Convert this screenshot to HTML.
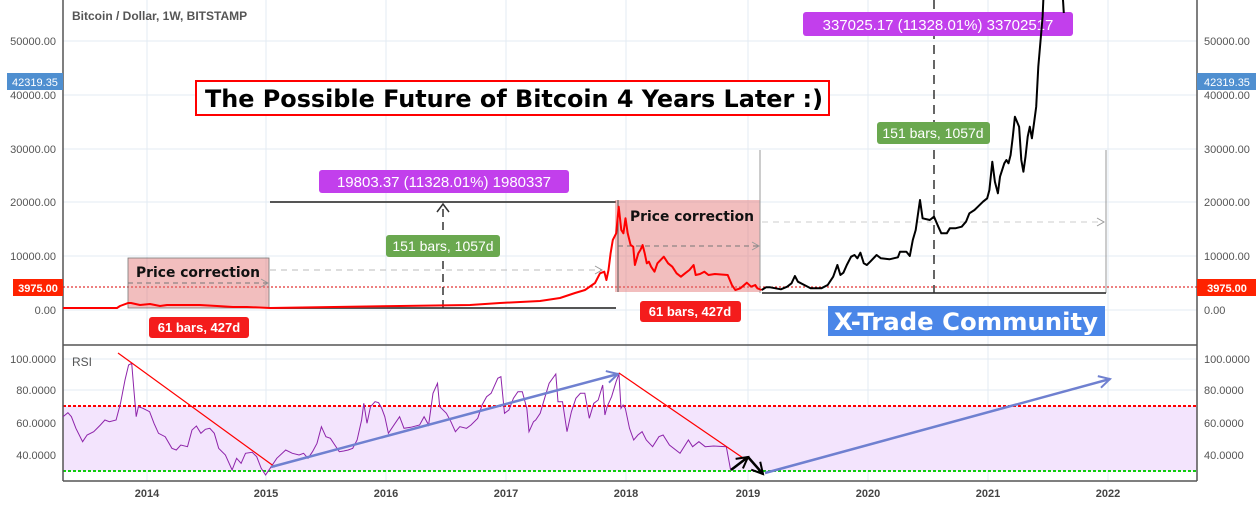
<!DOCTYPE html>
<html><head><meta charset="utf-8"><style>
html,body{margin:0;padding:0;background:#fff;}
svg{display:block;font-family:"Liberation Sans",sans-serif;}
</style></head><body>
<svg id="s" width="1260" height="506" xmlns="http://www.w3.org/2000/svg">
<defs>
<marker id="ag" markerWidth="10" markerHeight="10" refX="8" refY="5" orient="auto" markerUnits="userSpaceOnUse"><path d="M1,1 L8,5 L1,9" fill="none" stroke="#999" stroke-width="1"/></marker>
<marker id="ab" markerWidth="14" markerHeight="14" refX="12" refY="7" orient="auto" markerUnits="userSpaceOnUse"><path d="M1,1 L12,7 L1,13" fill="none" stroke="#6f80d0" stroke-width="2"/></marker>
<marker id="ak" markerWidth="14" markerHeight="14" refX="12" refY="7" orient="auto" markerUnits="userSpaceOnUse"><path d="M1,1 L12,7 L1,13" fill="none" stroke="#000" stroke-width="2"/></marker>
</defs>
<g stroke="#e3ebf3" stroke-width="1">
<line x1="63" x2="1197" y1="41" y2="41"/><line x1="63" x2="1197" y1="95" y2="95"/><line x1="63" x2="1197" y1="149" y2="149"/><line x1="63" x2="1197" y1="202" y2="202"/><line x1="63" x2="1197" y1="256" y2="256"/><line x1="63" x2="1197" y1="310" y2="310"/>
<line x1="63" x2="1197" y1="359" y2="359"/><line x1="63" x2="1197" y1="390" y2="390"/><line x1="63" x2="1197" y1="423" y2="423"/><line x1="63" x2="1197" y1="455" y2="455"/>
<line x1="147" x2="147" y1="0" y2="481"/><line x1="266" x2="266" y1="0" y2="481"/><line x1="386" x2="386" y1="0" y2="481"/><line x1="506" x2="506" y1="0" y2="481"/><line x1="626" x2="626" y1="0" y2="481"/><line x1="748" x2="748" y1="0" y2="481"/><line x1="868" x2="868" y1="0" y2="481"/><line x1="988" x2="988" y1="0" y2="481"/><line x1="1108" x2="1108" y1="0" y2="481"/>
</g>
<rect x="63" y="406" width="1134" height="65" fill="#f3e4fd"/>
<line x1="63" x2="1197" y1="406" y2="406" stroke="#f00" stroke-width="2" stroke-dasharray="3,2"/>
<line x1="63" x2="1197" y1="471" y2="471" stroke="#1c1" stroke-width="2" stroke-dasharray="3,2"/>
<g stroke="#555" stroke-width="1.5"><line x1="63" x2="63" y1="0" y2="481"/><line x1="1197" x2="1197" y1="0" y2="481"/><line x1="63" x2="1197" y1="345" y2="345"/><line x1="63" x2="1197" y1="481" y2="481"/></g>
<g font-size="11" fill="#555" text-anchor="end">
<text x="56" y="45">50000.00</text><text x="56" y="99">40000.00</text><text x="56" y="153">30000.00</text><text x="56" y="206">20000.00</text><text x="56" y="260">10000.00</text><text x="56" y="314">0.00</text>
<text x="56" y="363">100.0000</text><text x="56" y="394">80.0000</text><text x="56" y="427">60.0000</text><text x="56" y="459">40.0000</text>
</g>
<g font-size="11" fill="#555">
<text x="1204" y="45">50000.00</text><text x="1204" y="99">40000.00</text><text x="1204" y="153">30000.00</text><text x="1204" y="206">20000.00</text><text x="1204" y="260">10000.00</text><text x="1204" y="314">0.00</text>
<text x="1204" y="363">100.0000</text><text x="1204" y="394">80.0000</text><text x="1204" y="427">60.0000</text><text x="1204" y="459">40.0000</text>
</g>
<g font-size="11" fill="#444" font-weight="bold" text-anchor="middle">
<text x="147" y="497">2014</text><text x="266" y="497">2015</text><text x="386" y="497">2016</text><text x="506" y="497">2017</text><text x="626" y="497">2018</text><text x="748" y="497">2019</text><text x="868" y="497">2020</text><text x="988" y="497">2021</text><text x="1108" y="497">2022</text>
</g>
<text x="72" y="20" font-size="12" fill="#555" font-weight="bold">Bitcoin / Dollar, 1W, BITSTAMP</text>
<text x="72" y="366" font-size="12" fill="#555">RSI</text>
<rect x="7" y="73" width="56" height="17" fill="#4f8fd0"/><text x="35" y="86" font-size="11" fill="#fff" text-anchor="middle">42319.35</text>
<rect x="1197" y="73" width="59" height="17" fill="#4f8fd0"/><text x="1227" y="86" font-size="11" fill="#fff" text-anchor="middle">42319.35</text>
<line x1="63" x2="1197" y1="287" y2="287" stroke="#d00" stroke-width="1" stroke-dasharray="2,2"/>
<rect x="13" y="279" width="50" height="17" fill="#f20"/><text x="38" y="292" font-size="11" fill="#fff" text-anchor="middle" font-weight="bold">3975.00</text>
<rect x="1197" y="279" width="59" height="17" fill="#f20"/><text x="1227" y="292" font-size="11" fill="#fff" text-anchor="middle" font-weight="bold">3975.00</text>
<rect x="128" y="258" width="141" height="50" fill="rgba(226,110,110,0.45)" stroke="#777" stroke-width="0.8"/>
<text x="198" y="277" font-size="14" font-weight="bold" text-anchor="middle" fill="#111" font-family="DejaVu Sans, sans-serif" textLength="124" lengthAdjust="spacingAndGlyphs">Price correction</text>
<line x1="128" x2="268" y1="283" y2="283" stroke="#777" stroke-dasharray="5,4" marker-end="url(#ag)"/>
<rect x="149" y="317" width="100" height="21" rx="3" fill="#f41c1c"/><text x="199" y="332" font-size="13" font-weight="bold" fill="#fff" text-anchor="middle">61 bars, 427d</text>
<line x1="270" x2="616" y1="202" y2="202" stroke="#555" stroke-width="2"/>
<line x1="270" x2="616" y1="308" y2="308" stroke="#555" stroke-width="2"/>
<line x1="270" x2="602" y1="270" y2="270" stroke="#bbb" stroke-dasharray="6,5" marker-end="url(#ag)"/>
<line x1="443" x2="443" y1="308" y2="206" stroke="#333" stroke-width="1.5" stroke-dasharray="8,5"/>
<path d="M437,212 L443,204 L449,212" fill="none" stroke="#333" stroke-width="1.5"/>
<rect x="319" y="170" width="250" height="23" rx="3" fill="#c23fec"/><text x="444" y="187" font-size="15" fill="#fff" text-anchor="middle">19803.37 (11328.01%) 1980337</text>
<rect x="386" y="235" width="114" height="22" rx="3" fill="#6aa84f"/><text x="443" y="251" font-size="14" fill="#fff" text-anchor="middle">151 bars, 1057d</text>
<rect x="615" y="200" width="145" height="92" fill="rgba(226,110,110,0.45)"/>
<line x1="618" x2="618" y1="200" y2="292" stroke="#555"/>
<text x="692" y="221" font-size="14" font-weight="bold" text-anchor="middle" fill="#111" font-family="DejaVu Sans, sans-serif" textLength="124" lengthAdjust="spacingAndGlyphs">Price correction</text>
<line x1="618" x2="759" y1="246" y2="246" stroke="#777" stroke-dasharray="5,4" marker-end="url(#ag)"/>
<rect x="640" y="301" width="101" height="21" rx="3" fill="#f41c1c"/><text x="690" y="316" font-size="13" font-weight="bold" fill="#fff" text-anchor="middle">61 bars, 427d</text>
<line x1="760" x2="760" y1="150" y2="293" stroke="#999"/>
<line x1="1106" x2="1106" y1="150" y2="293" stroke="#999"/>
<line x1="762" x2="1106" y1="293" y2="293" stroke="#555" stroke-width="2"/>
<line x1="762" x2="1104" y1="222" y2="222" stroke="#ccc" stroke-dasharray="6,5" marker-end="url(#ag)"/>
<line x1="934" x2="934" y1="0" y2="293" stroke="#333" stroke-width="1.5" stroke-dasharray="9,6"/>
<rect x="803" y="12" width="270" height="24" rx="3" fill="#c23fec"/><text x="938" y="30" font-size="15" fill="#fff" text-anchor="middle">337025.17 (11328.01%) 33702517</text>
<rect x="877" y="122" width="113" height="22" rx="3" fill="#6aa84f"/><text x="933" y="138" font-size="14" fill="#fff" text-anchor="middle">151 bars, 1057d</text>
<path id="price" fill="none" stroke="#f00" stroke-width="2" stroke-linejoin="round"/>
<path id="price2" fill="none" stroke="#000" stroke-width="2" stroke-linejoin="round"/>
<path id="rsi" fill="none" stroke="#8e24aa" stroke-width="1"/>
<rect x="196" y="81" width="633" height="34" fill="#fff" stroke="#f00" stroke-width="2"/>
<text x="514" y="107" font-size="24" font-weight="bold" text-anchor="middle" fill="#000" font-family="DejaVu Sans, sans-serif" textLength="618" lengthAdjust="spacingAndGlyphs">The Possible Future of Bitcoin 4 Years Later :)</text>
<rect x="828" y="306" width="277" height="30" fill="#4a86e8"/>
<text x="966" y="330" font-size="24" font-weight="bold" text-anchor="middle" fill="#fff" font-family="DejaVu Sans, sans-serif" textLength="264" lengthAdjust="spacingAndGlyphs">X-Trade Community</text>
<line x1="118" y1="353" x2="275" y2="467" stroke="#f00" stroke-width="1.2"/>
<line x1="271" y1="467" x2="618" y2="374" stroke="#6f80d0" stroke-width="2.5" marker-end="url(#ab)"/>
<line x1="619" y1="373" x2="746" y2="460" stroke="#f00" stroke-width="1.2"/>
<line x1="731" y1="470" x2="748" y2="457" stroke="#000" stroke-width="2.5" marker-end="url(#ak)"/>
<line x1="748" y1="457" x2="763" y2="474" stroke="#000" stroke-width="2.5" marker-end="url(#ak)"/>
<line x1="765" y1="473" x2="1110" y2="379" stroke="#6f80d0" stroke-width="2.5" marker-end="url(#ab)"/>
</svg>
<script>
function P(a){return 'M'+a.map(p=>p[0].toFixed(1)+','+p[1].toFixed(1)).join(' L');}
var r1=[[63,308],[117,308],[120,306],[128,303],[131,303],[140,305],[150,304],[160,306],[167,305],[187,305],[200,305],[217,306],[233,307],[247,307],[270,308],[400,306],[470,305],[500,303],[540,301],[560,298],[575,293],[585,290],[595,283]];
var z2r=[[0,820],[10,815],[15,840],[20,810],[25,760],[30,720],[38,700],[44,620],[50,690],[55,700],[60,655],[65,700],[72,735],[78,740],[82,795],[90,760],[95,750],[100,735],[105,760],[110,790],[115,785],[120,800],[128,815],[135,790],[150,770],[160,790],[170,800],[180,820],[190,830],[200,820],[210,810],[220,795],[225,825],[235,822],[245,815],[255,825],[270,822],[300,825],[310,855],[318,870],[330,865],[345,848],[355,860],[365,855],[370,865],[380,870]];
var z2k=[[380,870],[390,862],[400,862],[425,868],[440,860],[450,850],[458,828],[465,845],[480,855],[495,865],[520,865],[535,855],[548,830],[558,795],[565,825],[572,818],[580,795],[590,770],[598,765],[605,775],[612,758],[620,790],[627,795],[635,785],[650,765],[660,775],[680,778],[700,772],[705,755],[720,755],[728,768],[735,720],[742,690],[752,600],[758,655],[775,660],[785,650],[795,680],[802,700],[815,700],[822,685],[835,685],[850,680],[860,665],[868,640],[880,630],[888,620],[900,605],[910,595],[915,570],[922,485],[928,545],[935,580],[940,530],[950,490],[955,480],[960,490],[965,465],[970,410],[975,350],[985,380],[990,480],[995,515],[1000,470],[1005,410],[1010,380],[1015,415],[1020,370],[1025,320],[1030,200],[1040,50],[1042,-5]];
function c2(a){return a.map(p=>[600+p[0]/2.35,p[1]/3]);}
var red=r1.concat(c2(z2r));
document.getElementById('price').setAttribute('d',P(red));
document.getElementById('price2').setAttribute('d',P(c2(z2k))+' M'+(600+1088/2.35).toFixed(1)+',0 L'+(600+1090/2.35).toFixed(1)+',13');
var z3=[[145,230],[152,218],[160,230],[170,265],[185,305],[195,285],[210,275],[225,255],[235,240],[245,245],[260,240],[270,190],[280,120],[288,75],[295,70],[300,150],[305,230],[310,200],[320,205],[335,215],[345,250],[355,280],[370,290],[385,325],[395,330],[405,315],[420,320],[430,270],[440,258],[450,280],[460,268],[470,265],[480,280],[490,325],[505,345],[520,390],[530,355],[540,370],[550,340],[565,337],[575,350],[585,385],[595,405],[605,385],[620,355],[640,330],[655,340],[670,345],[680,340],[690,355],[700,335],[710,310],[720,260],[730,290],[740,295],[750,315],[760,335],[770,333],[780,330],[790,325],[800,300],[810,240],[815,190],[822,250],[830,200],[840,185],[848,188],[855,205],[862,230],[870,280],[885,250],[895,230],[905,265],[920,262],[940,255],[950,230],[960,255],[970,160],[980,130],[985,200],[1000,220],[1010,245],[1020,275],[1030,260],[1045,265],[1055,255],[1070,235],[1080,195],[1090,170],[1100,160],[1115,115],[1122,110],[1130,220],[1140,210],[1150,175],[1160,155],[1170,155],[1180,205],[1185,275],[1195,245],[1200,240],[1210,220],[1220,175],[1230,130],[1245,102],[1250,185],[1260,185],[1270,275],[1280,215],[1290,175],[1300,160],[1310,160],[1320,235],[1330,190],[1340,180],[1350,135],[1355,225],[1360,200],[1370,170],[1380,125],[1387,100]];
var z4=[[45,100],[50,205],[55,195],[60,205],[70,265],[80,300],[90,285],[100,275],[110,300],[125,320],[140,290],[150,285],[165,315],[190,340],[210,300],[220,320],[235,305],[250,320],[270,318],[300,320],[310,388],[320,380]];
var rs=z3.map(p=>[p[0]/2.24,340+p[1]/3]).concat(z4.map(p=>[600+p[0]/2.376,340+p[1]/3]));
rs[0][0]=63;
document.getElementById('rsi').setAttribute('d',P(rs));
</script>
</body></html>
